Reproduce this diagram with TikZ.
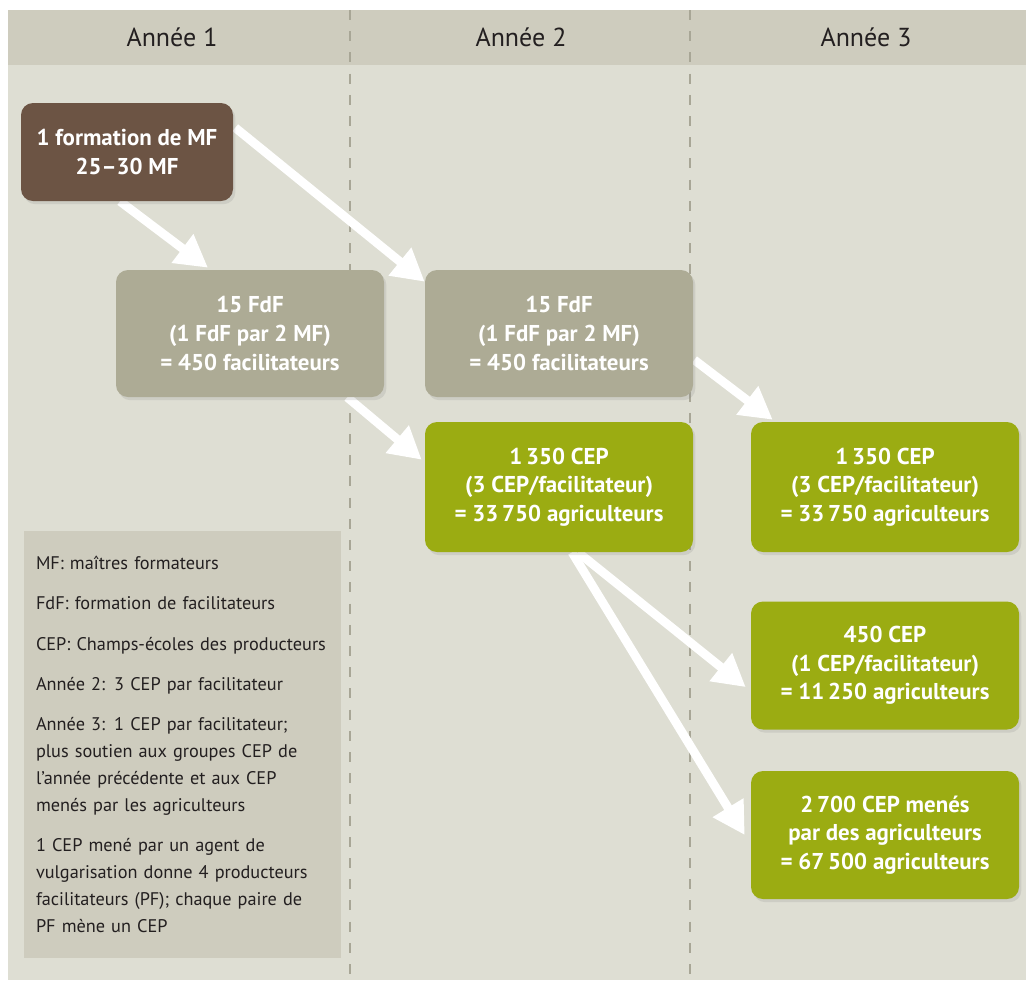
\documentclass[tikz,border=0pt]{standalone}
\usepackage{fontspec}
\setmainfont{PT Sans}
\usetikzlibrary{shapes,arrows.meta,calc,positioning,shadows}

\definecolor{fondclair}{RGB}{222,222,211}
\definecolor{bandeau}{RGB}{206,204,190}
\definecolor{brun}{RGB}{108,84,68}
\definecolor{gris}{RGB}{173,171,149}
\definecolor{vert}{RGB}{155,172,18}
\definecolor{tirets}{RGB}{168,166,150}
\definecolor{texte}{RGB}{35,31,32}

\pgfdeclarelayer{fond}
\pgfdeclarelayer{fleches}
\pgfsetlayers{fond,fleches,main}

\begin{document}
\begin{tikzpicture}[
  boite/.style={rounded corners=0.3cm, text=white, align=center,
    font=\bfseries\fontsize{16.3}{20.3}\selectfont,
    minimum width=6.7cm, minimum height=3.2cm,
    drop shadow={opacity=0.18, shadow xshift=0.06cm, shadow yshift=-0.08cm}},
  annee/.style={text=texte, font=\fontsize{18.5}{20}\selectfont},
  legende/.style={fill=bandeau, text=texte, align=left, text width=7.325cm,
    inner xsep=0.3cm, minimum height=10.675cm,
    font=\fontsize{13}{19.2}\selectfont},
  fleche/.style={draw=white, line width=0.22cm, -{Triangle[width=0.85cm,length=0.8cm]}}
]

\useasboundingbox (0,0) rectangle (25.65,-24.55);

%background
\begin{pgfonlayer}{fond}
\fill[fondclair] (0.2,-0.25) rectangle (25.65,-24.5);
\fill[bandeau] (0.2,-0.25) rectangle (25.65,-1.625);
\draw[tirets, line width=1pt, dash pattern=on 0.25cm off 0.28cm] (8.75,-0.25) -- (8.75,-24.5);
\draw[tirets, line width=1pt, dash pattern=on 0.25cm off 0.28cm] (17.25,-0.25) -- (17.25,-24.5);
\end{pgfonlayer}

%years
\node[annee] (an1) at (4.3,-0.925) {Année 1};
\node[annee] (an2) at (13.025,-0.925) {Année 2};
\node[annee] (an3) at (21.65,-0.925) {Année 3};

%boxes
\node[boite, fill=brun, minimum width=5.3cm, minimum height=2.45cm] (mf) at (3.175,-3.8)
  {1 formation de MF\\25–30 MF};

\node[boite, fill=gris, minimum height=3.175cm, on grid, below right=4.5375cm and 3.075cm of mf] (fdf1)
  {15 FdF\\ (1 FdF par 2 MF)\\= 450 facilitateurs};
\node[boite, fill=gris, minimum height=3.175cm, on grid, right=7.725cm of fdf1] (fdf2)
  {15 FdF\\ (1 FdF par 2 MF)\\= 450 facilitateurs};

\node[boite, fill=vert, minimum height=3.25cm, on grid, below=3.8375cm of fdf2] (cepa)
  {1\,350 CEP\\(3 CEP/facilitateur)\\= 33\,750 agriculteurs};
\node[boite, fill=vert, minimum height=3.25cm, on grid, right=8.15cm of cepa] (cepb)
  {1\,350 CEP\\(3 CEP/facilitateur)\\= 33\,750 agriculteurs};
\node[boite, fill=vert, on grid, below=4.4625cm of cepb] (cepc)
  {450 CEP\\(1 CEP/facilitateur)\\= 11\,250 agriculteurs};
\node[boite, fill=vert, on grid, below=4.2375cm of cepc] (cepd)
  {2\,700 CEP menés\\par des agriculteurs\\= 67\,500 agriculteurs};

%legend
\node[legende] (leg) at (4.5625,-18.6125)
  {MF: maîtres formateurs\\[0.33cm]
   FdF: formation de facilitateurs\\[0.33cm]
   CEP: Champs-écoles des producteurs\\[0.33cm]
   Année 2: 3 CEP par facilitateur\\[0.33cm]
   Année 3: 1 CEP par facilitateur;\\plus soutien aux groupes CEP de\\l’année précédente et aux CEP\\menés par les agriculteurs\\[0.33cm]
   1 CEP mené par un agent de\\vulgarisation donne 4 producteurs\\facilitateurs (PF); chaque paire de\\PF mène un CEP};

%arrows
\begin{pgfonlayer}{fleches}
\draw[fleche] ([xshift=-0.175cm]mf.south) -- ([xshift=-1.05cm,yshift=0.05cm]fdf1.north);
\draw[fleche] ([xshift=0.05cm,yshift=-0.625cm]mf.north east) -- ([yshift=-0.3cm]fdf2.north west);
\draw[fleche] ([xshift=-0.925cm]fdf1.south east) -- ([xshift=-0.075cm,yshift=-0.95cm]cepa.north west);
\draw[fleche] ([xshift=0.025cm,yshift=-0.66cm]fdf2.east) -- ([xshift=0.55cm,yshift=0.05cm]cepb.north west);
\draw[fleche] ([xshift=0.475cm]cepa.south) -- ([xshift=-0.125cm,yshift=-0.54cm]cepc.west);
\draw[fleche] ([xshift=0.325cm]cepa.south) -- ([xshift=-0.15cm]cepd.west);
\end{pgfonlayer}

\end{tikzpicture}
\end{document}
